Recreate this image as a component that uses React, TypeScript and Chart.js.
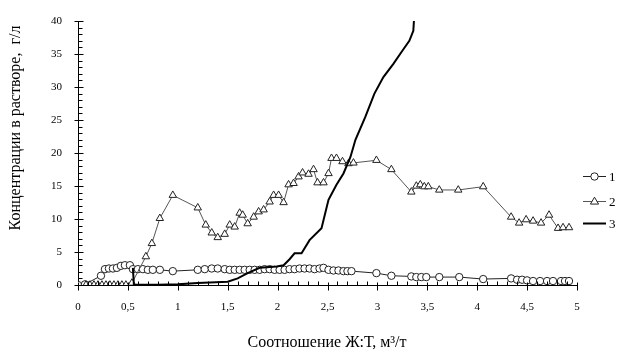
import React, { useEffect, useRef } from "react";
import { Chart, registerables } from "chart.js";

Chart.register(...registerables);

// Series 1 (circles)
const s1X = [0, 0.07, 0.23, 0.27, 0.31, 0.35, 0.39, 0.43, 0.47, 0.52, 0.55, 0.6, 0.65, 0.7, 0.75, 0.82, 0.95, 1.2, 1.27, 1.34, 1.4, 1.47, 1.52, 1.57, 1.62, 1.67, 1.72, 1.77, 1.82, 1.87, 1.92, 1.97, 2.02, 2.07, 2.12, 2.17, 2.22, 2.27, 2.32, 2.37, 2.42, 2.46, 2.51, 2.56, 2.61, 2.66, 2.7, 2.74, 2.99, 3.14, 3.34, 3.39, 3.44, 3.49, 3.62, 3.82, 4.06, 4.34, 4.4, 4.45, 4.5, 4.56, 4.63, 4.7, 4.76, 4.84, 4.88, 4.92];
const s1Y = [0, 0.1, 1.4, 2.4, 2.5, 2.5, 2.6, 2.9, 3.0, 3.0, 2.4, 2.4, 2.4, 2.3, 2.3, 2.3, 2.1, 2.3, 2.4, 2.5, 2.5, 2.4, 2.3, 2.3, 2.3, 2.3, 2.3, 2.3, 2.3, 2.4, 2.4, 2.3, 2.3, 2.3, 2.4, 2.4, 2.5, 2.5, 2.5, 2.4, 2.5, 2.6, 2.3, 2.2, 2.2, 2.1, 2.1, 2.1, 1.8, 1.4, 1.3, 1.2, 1.2, 1.2, 1.2, 1.2, 0.9, 1.0, 0.8, 0.8, 0.7, 0.6, 0.6, 0.6, 0.6, 0.6, 0.6, 0.6];

// Series 2 (triangles)
const s2X = [0.08, 0.12, 0.16, 0.2, 0.24, 0.28, 0.32, 0.36, 0.4, 0.44, 0.48, 0.54, 0.68, 0.74, 0.82, 0.95, 1.2, 1.28, 1.34, 1.4, 1.47, 1.52, 1.57, 1.62, 1.65, 1.7, 1.76, 1.81, 1.86, 1.92, 1.96, 2.01, 2.06, 2.11, 2.16, 2.21, 2.25, 2.31, 2.36, 2.4, 2.46, 2.51, 2.54, 2.59, 2.65, 2.71, 2.76, 2.99, 3.14, 3.34, 3.39, 3.43, 3.47, 3.51, 3.62, 3.81, 4.06, 4.34, 4.42, 4.49, 4.56, 4.64, 4.72, 4.81, 4.86, 4.92];
const s2Y = [0, 0, 0, 0, 0, 0, 0, 0, 0, 0, 0, 0.3, 4.3, 6.3, 10.1, 13.6, 11.7, 9.1, 7.9, 7.2, 7.7, 9.1, 8.8, 10.9, 10.6, 9.3, 10.3, 11.1, 11.4, 12.6, 13.6, 13.6, 12.5, 15.2, 15.4, 16.4, 17.0, 16.8, 17.5, 15.5, 15.5, 16.9, 19.2, 19.2, 18.7, 18.4, 18.5, 18.9, 17.5, 14.1, 15.0, 15.2, 14.9, 14.9, 14.4, 14.4, 14.9, 10.3, 9.4, 9.9, 9.7, 9.4, 10.6, 8.6, 8.7, 8.7];

// Series 3 (line)
const s3X = [0.55, 0.56, 0.8, 1.0, 1.2, 1.5, 1.6, 1.7, 1.82, 1.99, 2.06, 2.12, 2.17, 2.24, 2.32, 2.44, 2.51, 2.59, 2.66, 2.73, 2.78, 2.88, 2.97, 3.06, 3.16, 3.25, 3.32, 3.36, 3.37];
const s3Y = [2.6, 0.05, 0.05, 0.1, 0.3, 0.5, 1.0, 1.8, 2.6, 2.8, 3.0, 3.9, 4.8, 4.8, 6.8, 8.6, 12.9, 15.2, 16.9, 19.4, 22, 25.5, 29, 31.5, 33.5, 35.5, 37, 38.5, 41];

const xTickStep = 0.5;
const yTickStep = 5;
const legendLabels = ["1", "2", "3"];
const xTitle = "Соотношение Ж:Т, м³/т";
const yTitle = "Концентрации в растворе,  г/л";

const FONT = "'Liberation Serif', 'Times New Roman', serif";

const toPts = (xs: number[], ys: number[]) => xs.map((x, i) => ({ x, y: ys[i] }));

const decorPlugin = {
  id: "decor",
  afterDraw(chart: any) {
    const { ctx, chartArea, scales } = chart;
    const xs = scales.x;
    const ys = scales.y;
    ctx.save();
    ctx.strokeStyle = "#000";
    ctx.lineWidth = 1;
    // x ticks
    for (let i = 0; i <= 50; i++) {
      const v = i / 10;
      const px = Math.round(xs.getPixelForValue(v)) + 0.5;
      const by = Math.round(chartArea.bottom) + 0.5;
      ctx.beginPath();
      if (i % 5 === 0) {
        ctx.moveTo(px, by - 3);
        ctx.lineTo(px, by + 5);
      } else {
        ctx.moveTo(px, by - 4);
        ctx.lineTo(px, by);
      }
      ctx.stroke();
    }
    // y ticks
    for (let i = 0; i <= 40; i++) {
      const py = Math.round(ys.getPixelForValue(i)) + 0.5;
      const lx = Math.round(chartArea.left) + 0.5;
      ctx.beginPath();
      if (i % 5 === 0) {
        ctx.moveTo(lx - 4, py);
        ctx.lineTo(lx + 5, py);
      } else {
        ctx.moveTo(lx, py);
        ctx.lineTo(lx + 4, py);
      }
      ctx.stroke();
    }
    // titles
    ctx.fillStyle = "#000";
    ctx.font = `16px ${FONT}`;
    ctx.textAlign = "center";
    ctx.textBaseline = "middle";
    ctx.fillText(xTitle, 327, 343);
    ctx.save();
    ctx.translate(16, 128);
    ctx.rotate(-Math.PI / 2);
    ctx.fillText(yTitle, 0, 0);
    ctx.restore();
    // legend
    const ly = [176, 201, 223];
    ctx.font = `13px ${FONT}`;
    ctx.textAlign = "left";
    chart.data.datasets.forEach((ds: any, i: number) => {
      const y = ly[i] + 0.5;
      ctx.strokeStyle = ds.borderColor;
      ctx.lineWidth = ds.borderWidth;
      ctx.beginPath();
      ctx.moveTo(583, y);
      ctx.lineTo(606, y);
      ctx.stroke();
      if (ds.pointStyle && ds.pointRadius > 0) {
        ctx.fillStyle = "#fff";
        ctx.strokeStyle = ds.pointBorderColor;
        ctx.lineWidth = ds.pointBorderWidth;
        ctx.beginPath();
        if (ds.pointStyle === "circle") {
          ctx.arc(594.5, y, ds.pointRadius, 0, Math.PI * 2);
        } else {
          const r = ds.pointRadius;
          ctx.moveTo(594.5, y - r);
          ctx.lineTo(594.5 + r * 0.95, y + r * 0.6);
          ctx.lineTo(594.5 - r * 0.95, y + r * 0.6);
          ctx.closePath();
        }
        ctx.fill();
        ctx.stroke();
      }
      ctx.fillStyle = "#000";
      ctx.fillText(legendLabels[i], 609, y + 1);
    });
    ctx.restore();
  },
};

export default function App() {
  const ref = useRef<HTMLCanvasElement | null>(null);
  useEffect(() => {
    document.body.style.margin = "0";
    const canvas = ref.current;
    if (!canvas) return;
    const chart = new Chart(canvas, {
      type: "scatter",
      data: {
        datasets: [
          {
            label: "1",
            data: toPts(s1X, s1Y),
            showLine: true,
            borderColor: "#222",
            borderWidth: 1,
            pointStyle: "circle",
            pointRadius: 3.7,
            pointBorderWidth: 1,
            pointBackgroundColor: "#fff",
            pointBorderColor: "#222",
            order: 2,
          },
          {
            label: "2",
            data: toPts(s2X, s2Y),
            showLine: true,
            borderColor: "#555",
            borderWidth: 1,
            pointStyle: "triangle",
            pointRadius: 4.3,
            pointBorderWidth: 1,
            pointBackgroundColor: "#fff",
            pointBorderColor: "#222",
            order: 1,
          },
          {
            label: "3",
            data: toPts(s3X, s3Y),
            showLine: true,
            borderColor: "#000",
            borderWidth: 2,
            pointRadius: 0,
            order: 0,
          },
        ],
      },
      options: {
        animation: false,
        responsive: false,
        events: [],
        layout: { padding: { top: 21, right: 40, left: 0, bottom: 0 } },
        plugins: { legend: { display: false }, tooltip: { enabled: false } },
        scales: {
          x: {
            type: "linear",
            min: 0,
            max: 5,
            grid: { display: false },
            border: { display: true, color: "#000", width: 1 },
            ticks: {
              stepSize: xTickStep,
              padding: 8,
              color: "#000",
              font: { family: FONT, size: 11 },
              callback: (v: any) => String(v).replace(".", ","),
            },
            afterFit: (s: any) => {
              s.height = 67;
            },
          },
          y: {
            type: "linear",
            min: 0,
            max: 40,
            grid: { display: false },
            border: { display: true, color: "#000", width: 1 },
            ticks: {
              stepSize: yTickStep,
              padding: 8,
              color: "#000",
              font: { family: FONT, size: 11 },
            },
            afterFit: (s: any) => {
              s.width = 78;
            },
          },
        },
      },
      plugins: [decorPlugin],
    });
    return () => chart.destroy();
  }, []);
  return (
    <div style={{ position: "absolute", left: 0, top: 0, width: 617, height: 352, background: "#fff" }}>
      <canvas ref={ref} width={617} height={352} />
    </div>
  );
}
